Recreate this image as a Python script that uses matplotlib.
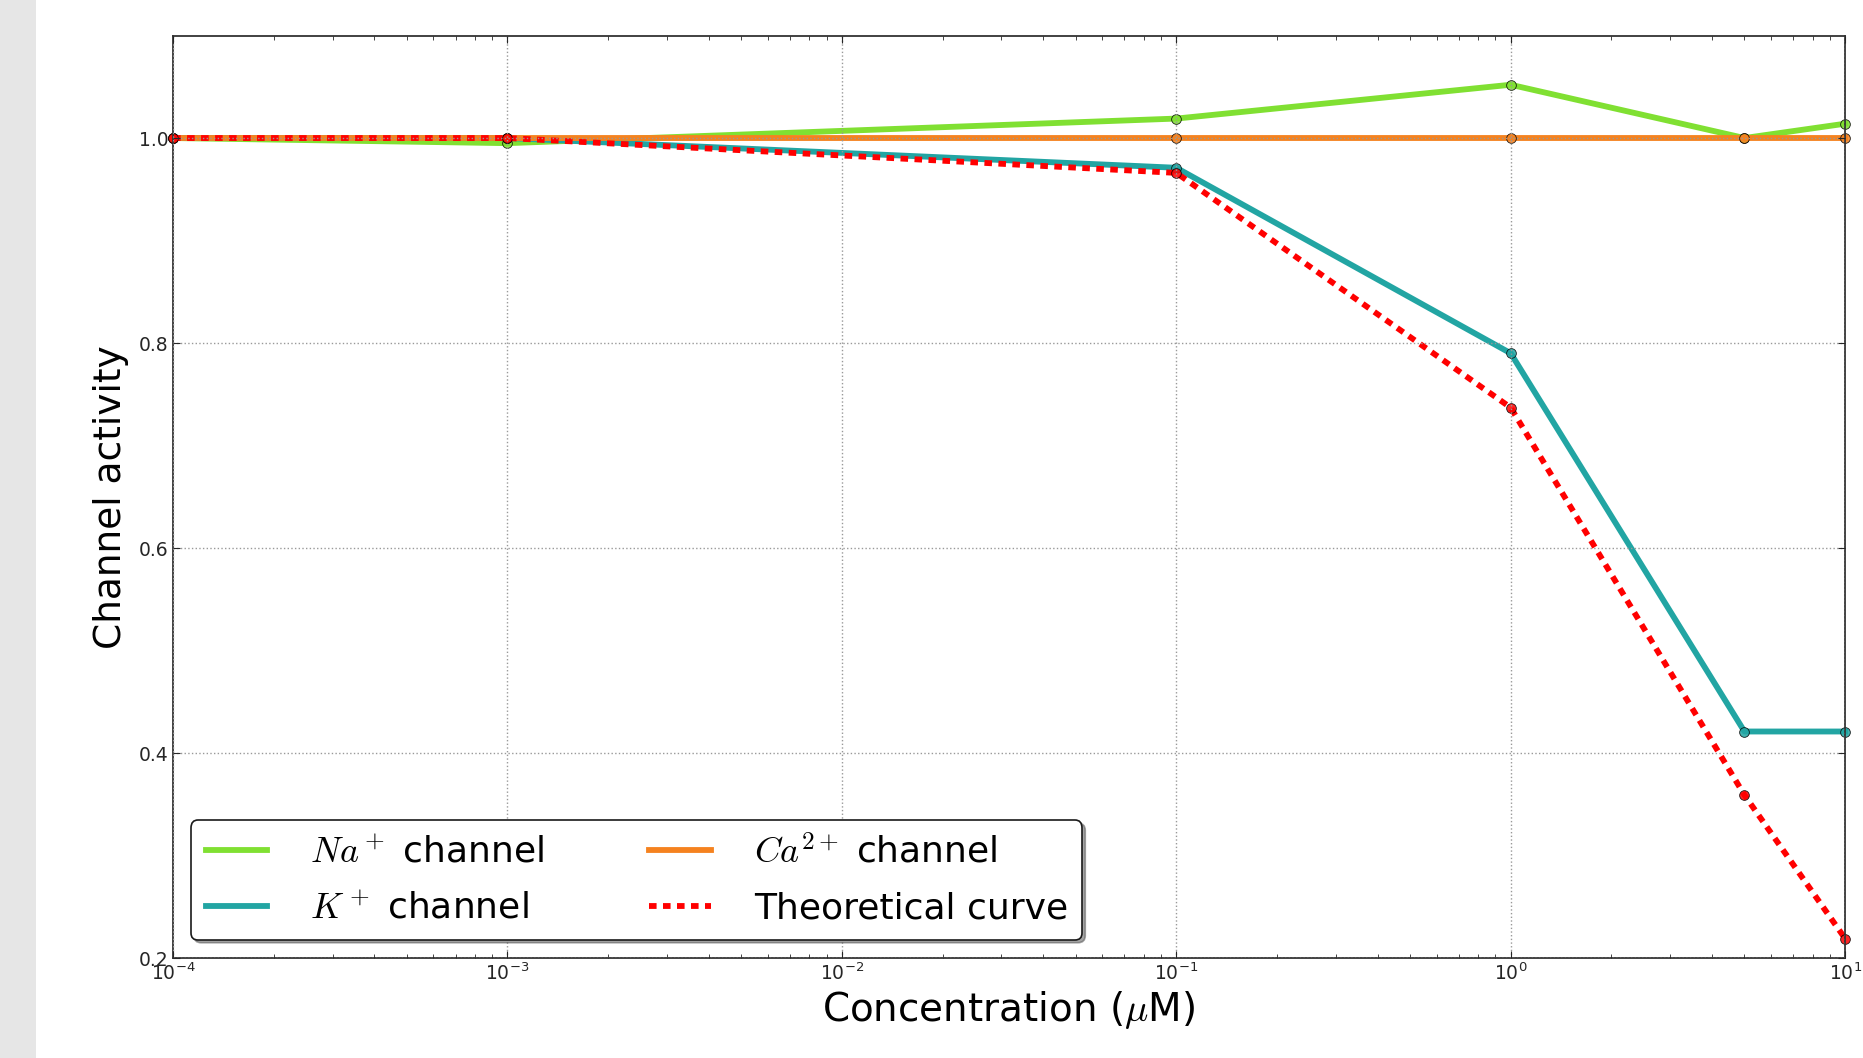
import matplotlib
matplotlib.use('Agg')
from matplotlib import pyplot as plt
from matplotlib.patches import Rectangle

# concentrations in uM and measured channel activity
conc = [1e-4, 1e-3, 1e-1, 1e0, 5e0, 1e1]
na_activity = [1.0, 0.995, 1.019, 1.052, 1.0, 1.014]
k_activity = [1.0, 1.0, 0.971, 0.790, 0.421, 0.421]
ca_activity = [1.0, 1.0, 1.0, 1.0, 1.0, 1.0]
theory = [1.0, 1.0, 0.966, 0.737, 0.359, 0.219]

y_ticks = [0.2, 0.4, 0.6, 0.8, 1.0]

plt.rcParams['mathtext.fontset'] = 'cm'
plt.rcParams['font.family'] = 'DejaVu Sans'

fig = plt.figure(figsize=(18.63, 10.58), dpi=100)
fig.patch.set_facecolor('white')
fig.add_artist(Rectangle((0, 0), 0.0195, 1, transform=fig.transFigure,
                         facecolor='#e6e6e6', edgecolor='none'))
ax = fig.add_axes([0.0929, 0.0945, 0.8975, 0.8719])

series = [
    (na_activity, '#80e032', r'$Na^+$ channel', '-'),
    (k_activity, '#22a5a3', r'$K^+$ channel', '-'),
    (ca_activity, '#f5821f', r'$Ca^{2+}$ channel', '-'),
    (theory, '#ff0000', 'Theoretical curve', (0, (1.3, 1.1))),
]
for values, color, label, ls in series:
    ax.plot(conc, values, linestyle=ls, color=color, lw=4.2, label=label,
            clip_on=False)
    ax.plot(conc, values, 'o', color=color, ms=7, mec='k', mew=0.6,
            alpha=0.85, clip_on=False)

ax.set_xscale('log')
ax.set_xlim(1e-4, 1e1)
ax.set_ylim(0.2, 1.1)
ax.set_yticks(y_ticks)
ax.set_yticklabels(['%.1f' % t for t in y_ticks])

ax.set_axisbelow(False)
ax.grid(True, which='major', color='0.6', linestyle=':', lw=1.0)
ax.tick_params(which='both', direction='in', top=True, right=True,
               labelsize=13.5, colors='0.15')
ax.tick_params(which='major', length=5)
ax.tick_params(which='minor', length=3)
for sp in ax.spines.values():
    sp.set_linewidth(1.3)
    sp.set_color('0.2')

ax.set_xlabel(r'Concentration ($\mu$M)', fontsize=28, labelpad=3)
ax.set_ylabel('Channel activity', fontsize=27, labelpad=7)

leg = ax.legend(loc='lower left', ncol=2, fontsize=26, fancybox=True,
                shadow=True, handlelength=1.7, handletextpad=1.2,
                columnspacing=2.9, labelspacing=0.6, borderaxespad=0.5,
                framealpha=1)
leg.get_frame().set_edgecolor('0.1')
leg.get_frame().set_linewidth(1.2)

plt.savefig('out.png', dpi=100, facecolor='white')
